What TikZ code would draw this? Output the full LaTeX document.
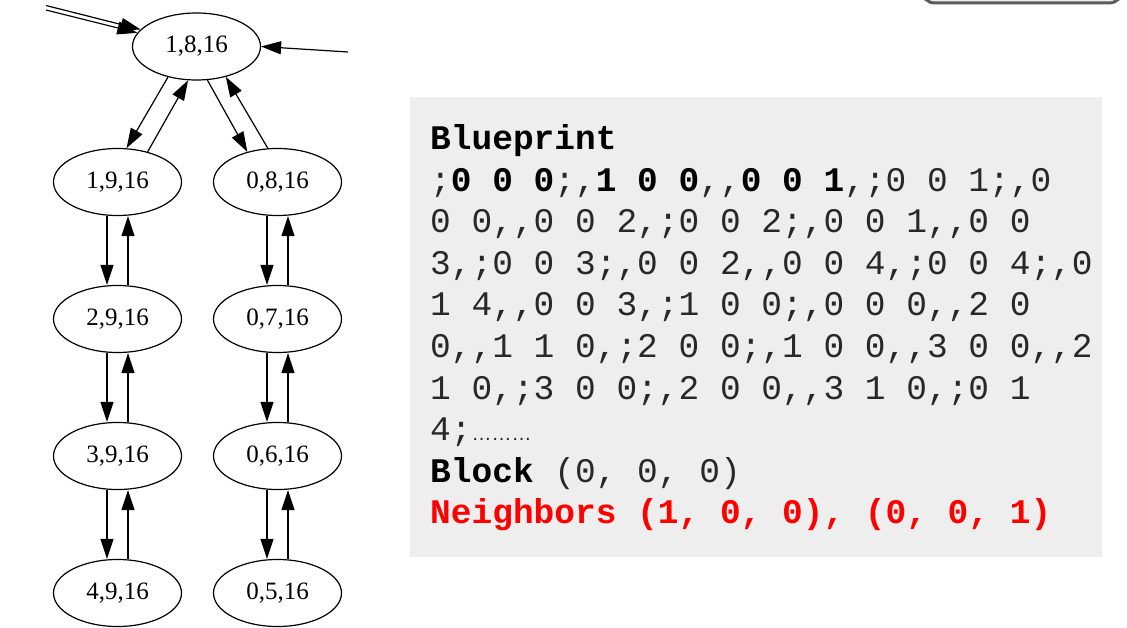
\documentclass[tikz,border=0pt]{standalone}
\usepackage{fontspec}
\setmainfont{Liberation Serif}
\newfontfamily\codefont{Liberation Mono}
\newfontfamily\dotfont{Liberation Sans}
\usetikzlibrary{shapes.geometric,arrows.meta}
\definecolor{boxgray}{RGB}{238,238,238}
\definecolor{nbred}{RGB}{255,0,0}
\definecolor{btnline}{RGB}{90,90,90}
\definecolor{codetext}{RGB}{40,40,40}
\newcommand\cbold[1]{\textbf{\color{black}#1}}
\begin{document}
\begin{tikzpicture}[x=1pt,y=-1pt,
  st/.style={ellipse,draw,line width=1.2pt,minimum width=128pt,minimum height=67pt,inner sep=0pt,font=\fontsize{25}{25}\selectfont},
  arr/.style={line width=1.2pt,-{Triangle[length=20pt,width=13pt]}},
  code/.style={anchor=base west,inner sep=0pt,text=codetext,font=\codefont\fontsize{34.5}{34.5}\selectfont}]
\clip (0,0) rectangle (1127,628);
\fill[white] (0,0) rectangle (1127,628);

% cut-off button at top right
\draw[btnline,line width=3pt,rounded corners=14pt,fill=gray!15] (921,-40) rectangle (1123,3);

% graph nodes
\node[st] (a)  at (196.5,46.5) {1,8,16};
\node[st] (b1) at (117.5,182) {1,9,16};
\node[st] (b2) at (117.5,319) {2,9,16};
\node[st] (b3) at (117.5,456) {3,9,16};
\node[st] (b4) at (117.5,593) {4,9,16};
\node[st] (c1) at (277.5,182) {0,8,16};
\node[st] (c2) at (277.5,319) {0,7,16};
\node[st] (c3) at (277.5,456) {0,6,16};
\node[st] (c4) at (277.5,593) {0,5,16};

% vertical edges
\foreach \u/\v in {b1/b2,b2/b3,b3/b4,c1/c2,c2/c3,c3/c4}{
  \draw[arr] ([xshift=-10.5pt]\u.south) -- ([xshift=-10.5pt]\v.north);
  \draw[arr] ([xshift=10.5pt]\v.north) -- ([xshift=10.5pt]\u.south);
}

% diagonal edges
\draw[arr] (a.227) -- (b1.75);
\draw[arr] (b1.45) -- (a.256);
\draw[arr] (a.288) -- (c1.135);
\draw[arr] (c1.106) -- (a.314);

% incoming edges from outside
\coordinate (in1) at (46,5.5);
\coordinate (in2) at (46,10);
\coordinate (in3) at (348,52);
\draw[arr] (in1) -- (a.163);
\draw[arr] (in2) -- (a.167);
\draw[arr] (in3) -- (a.east);

% text panel
\fill[boxgray] (410,97) rectangle (1102,557);
\node[code] (l0) at (430,150)   {\cbold{Blueprint}};
\node[code] (l1) at (430,191.5) {;\cbold{0 0 0};,\cbold{1 0 0},,\cbold{0 0 1},;0 0 1;,0};
\node[code] (l2) at (430,233)   {0 0,,0 0 2,;0 0 2;,0 0 1,,0 0};
\node[code] (l3) at (430,274.5) {3,;0 0 3;,0 0 2,,0 0 4,;0 0 4;,0};
\node[code] (l4) at (430,316)   {1 4,,0 0 3,;1 0 0;,0 0 0,,2 0};
\node[code] (l5) at (430,357.5) {0,,1 1 0,;2 0 0;,1 0 0,,3 0 0,,2};
\node[code] (l6) at (430,399)   {1 0,;3 0 0;,2 0 0,,3 1 0,;0 1};
\node[code] (l7) at (430,440.5) {4;{\dotfont\fontsize{20}{20}\selectfont ………}};
\node[code] (l8) at (430,482)   {\cbold{Block} (0, 0, 0)};
\node[code,text=nbred] (l9) at (430,523.5) {\textbf{Neighbors (1, 0, 0), (0, 0, 1)}};
\end{tikzpicture}
\end{document}
